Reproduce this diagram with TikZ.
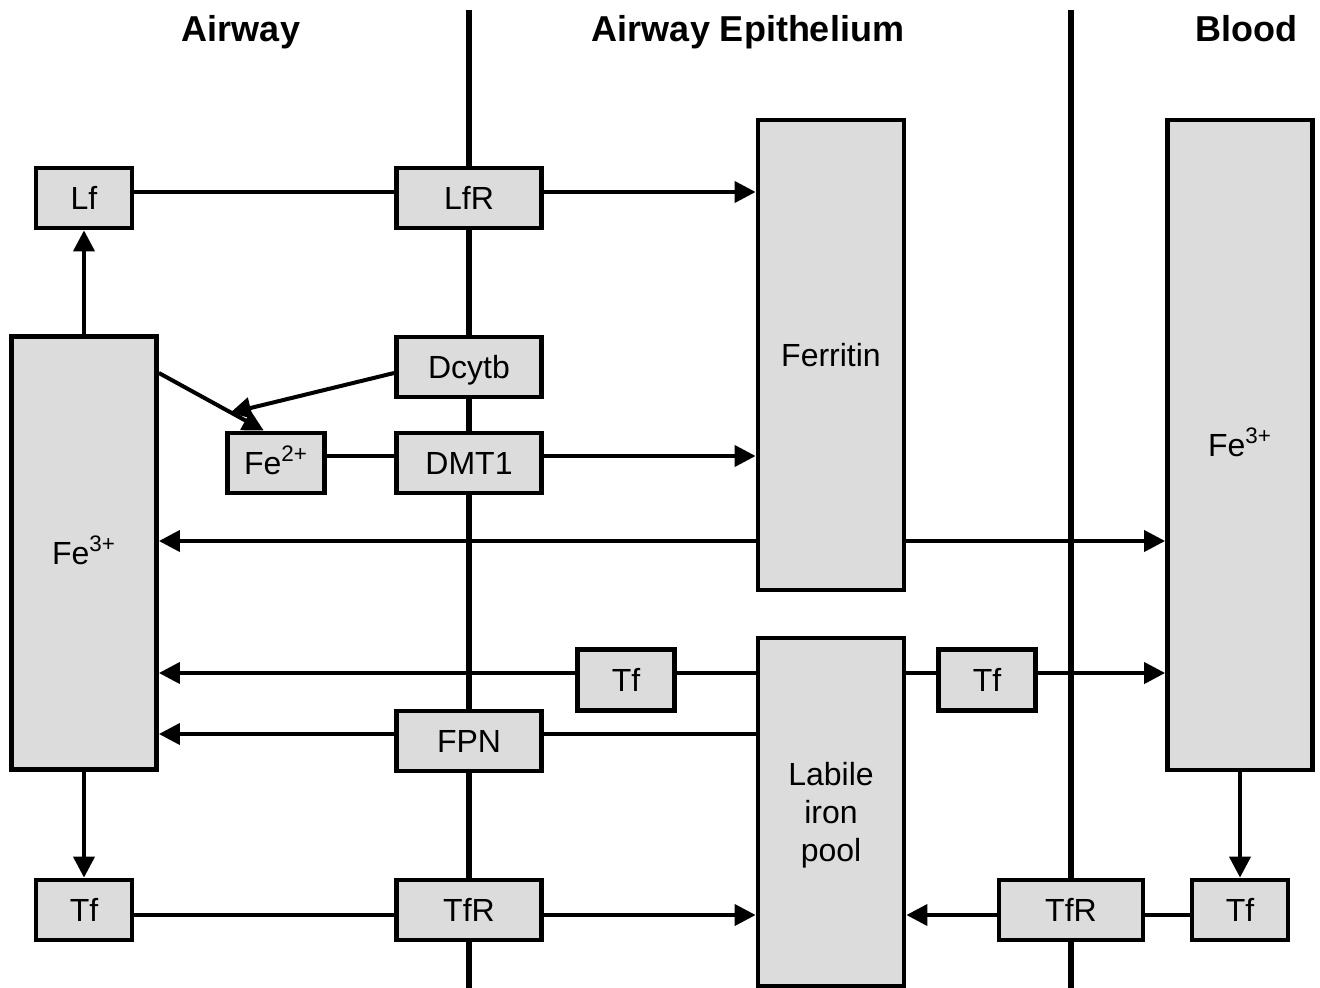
\documentclass[tikz,border=0pt]{standalone}
\usepackage{fontspec}
\setmainfont{Liberation Sans}
\usetikzlibrary{arrows.meta,calc}
\definecolor{boxgray}{RGB}{220,220,220}
\begin{document}
\begin{tikzpicture}[x=0.5pt,y=-0.5pt,
  box/.style={draw,line width=2.4pt,fill=boxgray,inner sep=0pt,align=center,
    text height=11.5pt,text depth=0pt,font=\fontsize{16}{19}\selectfont},
  boxtext/.style={inner sep=0pt,align=center,font=\fontsize{16}{19}\selectfont},
  title/.style={inner sep=0pt,text height=13pt,text depth=0pt,font=\fontsize{18}{21}\selectfont\bfseries},
  membrane/.style={line width=2.6pt},
  conn/.style={line width=2pt},
  arr/.style={line width=2pt,-{Triangle[length=10.5pt,width=10.5pt]}}]
\useasboundingbox (0,0) rectangle (1320,988);
% titles
\node[title] (tA) at (241,29) {Airway};
\node[title] (tE) at (748,29) {Airway Epithelium};
\node[title] (tB) at (1246,29) {Blood};
% membranes
\coordinate (m1t) at (469,10); \coordinate (m1b) at (469,990);
\coordinate (m2t) at (1071,10); \coordinate (m2b) at (1071,990);
\draw[membrane] (m1t) -- (m1b);
\draw[membrane] (m2t) -- (m2b);
% row coordinates
\coordinate (rLf) at (0,192);
\coordinate (rDcy) at (0,373);
\coordinate (rDMT) at (0,456);
\coordinate (rFer) at (0,541);
\coordinate (rTf) at (0,673);
\coordinate (rFPN) at (0,734);
\coordinate (rTfR) at (0,915);
% boxes
\node[box,minimum width=48pt,minimum height=30pt] (Lf) at (84,198) {Lf};
\node[box,minimum width=72.5pt,minimum height=30pt] (LfR) at (469,198) {LfR};
\node[box,minimum width=72.5pt,minimum height=30pt] (Dcytb) at (469,367) {Dcytb};
\node[box,minimum width=48.5pt,minimum height=30pt] (Fe2) at (276,463) {Fe\textsuperscript{2+}};
\node[box,minimum width=72.5pt,minimum height=30pt] (DMT) at (469,463) {DMT1};
\node[box,minimum width=73pt,minimum height=235pt] (Fer) at (831,355) {Ferritin};
\node[box,minimum width=72.5pt,minimum height=325pt] (FeB) at (1240,445) {Fe\textsuperscript{3+}};
\node[box,minimum width=72.5pt,minimum height=216.5pt] (FeL) at (84,553) {Fe\textsuperscript{3+}};
\node[box,minimum width=48.5pt,minimum height=30.5pt] (TfM) at (626,680) {Tf};
\node[box,minimum width=48.5pt,minimum height=30.5pt] (TfRt) at (987,680) {Tf};
\node[box,minimum width=73pt,minimum height=174pt] (Lab) at (831,812) {};
\node[boxtext] (LabT) at (831,815) {Labile\\iron\\pool};
\node[box,minimum width=72.5pt,minimum height=30pt] (FPN) at (469,741) {FPN};
\node[box,minimum width=48pt,minimum height=30pt] (TfL) at (84,910) {Tf};
\node[box,minimum width=72.5pt,minimum height=30pt] (TfR1) at (469,910) {TfR};
\node[box,minimum width=72pt,minimum height=30pt] (TfR2) at (1071,910) {TfR};
\node[box,minimum width=48pt,minimum height=30pt] (TfB) at (1240,910) {Tf};
% connectors
\draw[conn] (Lf.east |- rLf) -- (LfR.west |- rLf);
\draw[arr] (LfR.east |- rLf) -- (Fer.west |- rLf);
\draw[arr] (FeL.north) -- (Lf.south);
\coordinate (dcyTip) at (230,413);
\draw[arr] (FeL.east |- rDcy) -- ($(Fe2.north west)!0.38!(Fe2.north east)$);
\draw[arr] (Dcytb.west |- rDcy) -- (dcyTip);
\draw[conn] (Fe2.east |- rDMT) -- (DMT.west |- rDMT);
\draw[arr] (DMT.east |- rDMT) -- (Fer.west |- rDMT);
\draw[arr] (Fer.west |- rFer) -- (FeL.east |- rFer);
\draw[arr] (Fer.east |- rFer) -- (FeB.west |- rFer);
\draw[conn] (Lab.west |- rTf) -- (TfM.east |- rTf);
\draw[arr] (TfM.west |- rTf) -- (FeL.east |- rTf);
\draw[conn] (Lab.east |- rTf) -- (TfRt.west |- rTf);
\draw[arr] (TfRt.east |- rTf) -- (FeB.west |- rTf);
\draw[conn] (Lab.west |- rFPN) -- (FPN.east |- rFPN);
\draw[arr] (FPN.west |- rFPN) -- (FeL.east |- rFPN);
\draw[arr] (FeL.south) -- (TfL.north);
\draw[conn] (TfL.east |- rTfR) -- (TfR1.west |- rTfR);
\draw[arr] (TfR1.east |- rTfR) -- (Lab.west |- rTfR);
\draw[arr] (FeB.south) -- (TfB.north);
\draw[conn] (TfB.west |- rTfR) -- (TfR2.east |- rTfR);
\draw[arr] (TfR2.west |- rTfR) -- (Lab.east |- rTfR);
\end{tikzpicture}
\end{document}
